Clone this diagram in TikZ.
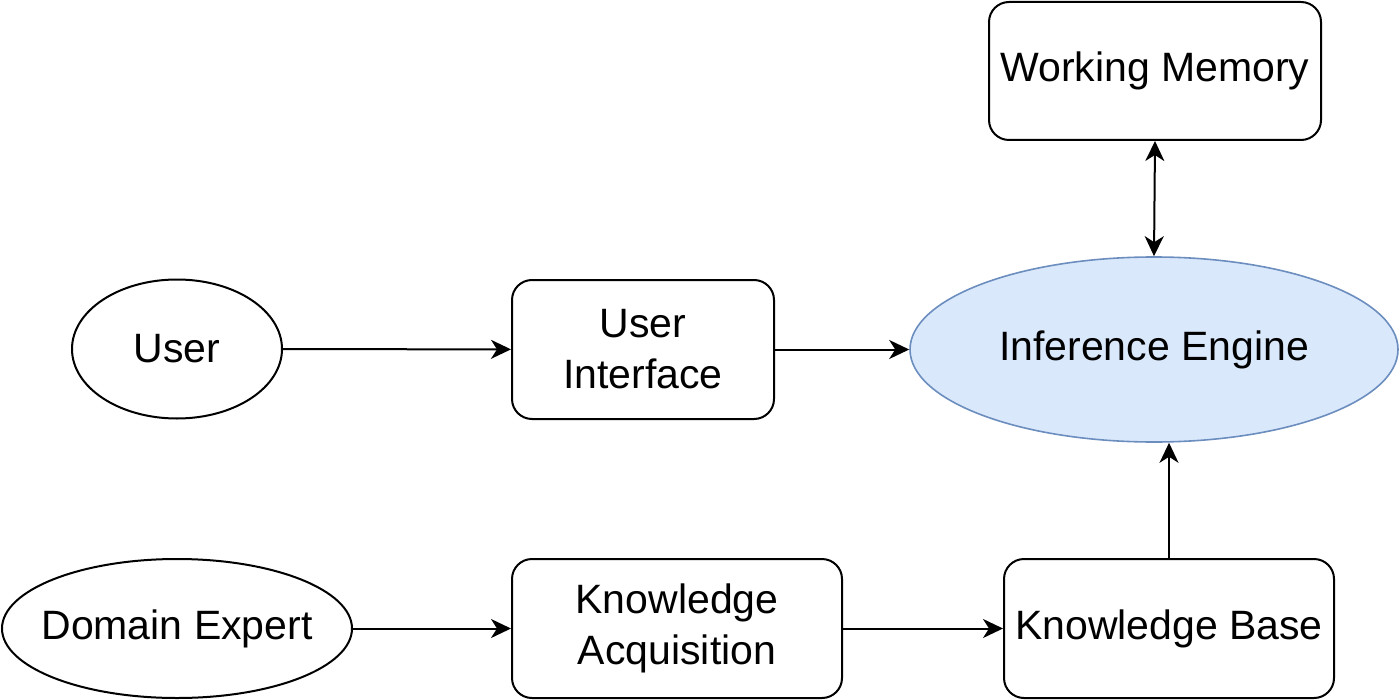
\documentclass[tikz,border=0pt]{standalone}
\usepackage{fontspec}
\setmainfont{Liberation Sans}
\usetikzlibrary{shapes.geometric,arrows.meta}
\definecolor{iefill}{HTML}{DAE8FC}
\definecolor{iedraw}{HTML}{6C8EBF}
\begin{document}
\begin{tikzpicture}[x=0.5pt,y=-0.5pt,
  every node/.style={font=\fontsize{20.5}{25.5}\selectfont, align=center, inner sep=0pt},
  rbox/.style={draw=black, line width=1pt, rounded corners=10pt},
  oval/.style={ellipse, draw=black, line width=1pt},
  conn/.style={line width=1pt, -{Stealth[length=10pt,width=9.5pt,inset=3pt]}},
  bconn/.style={line width=1pt, {Stealth[length=10pt,width=9.5pt,inset=3pt]}-{Stealth[length=10pt,width=9.5pt,inset=3pt]}}]
\useasboundingbox (0,0) rectangle (1400,700);
\node[rbox, minimum width=166pt, minimum height=69pt] (wm) at (1155,71) {Working Memory};
\node[oval, minimum width=105pt, minimum height=69.5pt] (user) at (177,349) {\makebox[0pt]{User}};
\node[rbox, minimum width=131pt, minimum height=69.5pt] (ui) at (643,349.5) {User\\Interface};
\node[ellipse, draw=iedraw, fill=iefill, line width=0.8pt, minimum width=244pt, minimum height=92.5pt] (ie) at (1154,349.5) {\makebox[0pt]{Inference Engine}};
\node[oval, minimum width=175pt, minimum height=69.5pt] (de) at (177,628.5) {\makebox[0pt]{Domain Expert}};
\node[rbox, minimum width=165pt, minimum height=69.5pt] (ka) at (677,628.5) {Knowledge\\Acquisition};
\node[rbox, minimum width=165pt, minimum height=69.5pt] (kb) at (1169,628.5) {Knowledge Base};
\draw[conn] (user) -- (ui);
\draw[conn] (ui) -- (ie);
\draw[bconn] (wm.south) -- (ie.north);
\draw[conn] (de) -- (ka);
\draw[conn] (ka) -- (kb);
\draw[conn] (kb.north) -- (kb.north |- ie.south);
\end{tikzpicture}
\end{document}
